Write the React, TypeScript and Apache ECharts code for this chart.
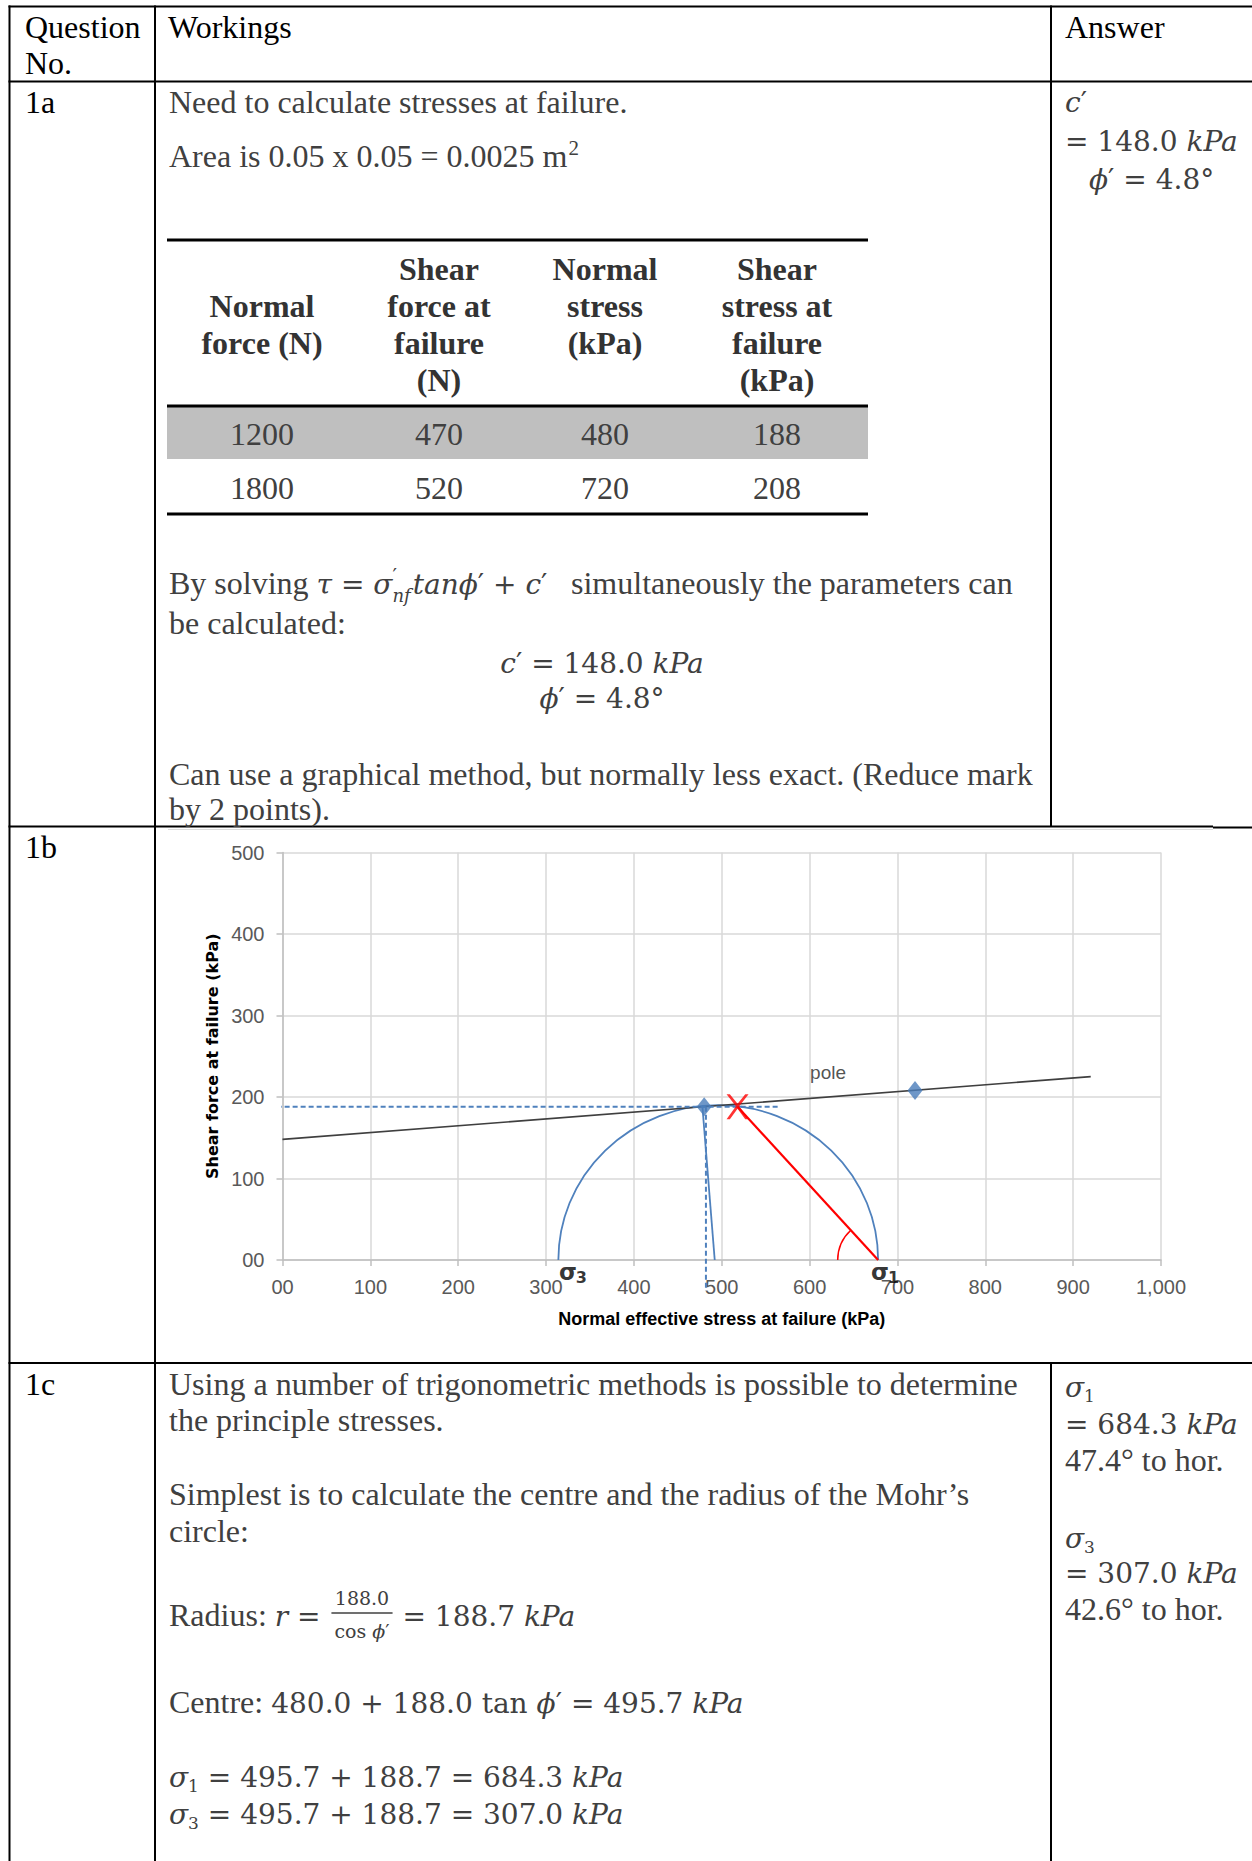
import React, { useEffect, useRef } from 'react';
import * as echarts from 'echarts';

// ---------- 1a table values ----------
const normalForce = [1200, 1800];
const shearForceAtFailure = [470, 520];
const normalStress = [480, 720];
const shearStressAtFailure = [188, 208];
const tableHeader = [
  ['', 'Normal', 'force (N)'],
  ['Shear', 'force at', 'failure', '(N)'],
  ['Normal', 'stress', '(kPa)'],
  ['Shear', 'stress at', 'failure', '(kPa)'],
];

// ---------- 1b chart values ----------
const xTickLabels = ['00', '100', '200', '300', '400', '500', '600', '700', '800', '900', '1,000'];
const yTickLabels = ['00', '100', '200', '300', '400', '500'];
const envelopeLine = [[0, 148], [920, 225]];
const mohrCircle = [[496, 182, 190]]; // centre, half width, height (kPa)
const poleMark = [[518, 188]];
const poleRay = [[518, 188], [678, 0]];
const angleMark = [[678, 0, 46]];
const tauDashed = [[-34, 188], [565, 188]];
const sigmaDashed = [[482, 188], [482, -38]];
const sigmaDrop = [[478, 188], [492, 0]];
const chartNotes = [
  { kind: 'word', text: 'pole', at: [621, 230] },
  { kind: 'sigma', text: 'σ', at: [325, -15] },
  { kind: 'index', text: '3', at: [340, -22] },
  { kind: 'sigma', text: 'σ', at: [680, -15] },
  { kind: 'index', text: '1', at: [695.5, -22] },
];

// ---------- text helpers ----------
type P = { t: string; k?: 'r' | 'b' | 'm' | 'i'; s?: number; dy?: number; at?: number; stay?: boolean; gap?: number };
const SERIF = '"Liberation Serif", "Times New Roman", serif';
const MATH = '"DejaVu Serif", serif';
const SANS = '"Liberation Sans", Arial, sans-serif';
let ctx: CanvasRenderingContext2D | null = null;
function fontOf(p: P) {
  const k = p.k || 'r';
  const math = k === 'm' || k === 'i';
  return {
    fam: math ? MATH : SERIF,
    size: p.s || (math ? 28 : 32),
    style: k === 'i' ? 'italic' : 'normal',
    weight: k === 'b' ? 'bold' : 'normal',
    math,
  };
}
function measure(p: P) {
  if (!ctx) ctx = document.createElement('canvas').getContext('2d');
  const f = fontOf(p);
  ctx!.font = `${f.style} ${f.weight} ${f.size}px ${f.fam}`;
  return ctx!.measureText(p.t).width;
}
function widthOf(parts: P[]) {
  let w = 0;
  parts.forEach((p) => { if (!p.stay) w += measure(p) + (p.gap || 0); });
  return w;
}
const PR: P = { t: '′', k: 'm' };
const cP: P[] = [{ t: 'c', k: 'i' }, PR];
const phiP: P[] = [{ t: 'ϕ', k: 'i' }, PR];

export default function App() {
  const ref = useRef<HTMLDivElement>(null);
  useEffect(() => {
    document.body.style.margin = '0';
    const g: any[] = [];
    const L = (x1: number, y1: number, x2: number, y2: number, w = 2, c = '#000') =>
      g.push({ type: 'line', silent: true, shape: { x1, y1, x2, y2 }, style: { stroke: c, lineWidth: w } });
    const run = (x0: number, y: number, parts: P[], color = '#404040'): number => {
      let x = x0;
      parts.forEach((p) => {
        if (p.at !== undefined) x = p.at;
        x += p.gap || 0;
        const f = fontOf(p);
        const dy = p.dy !== undefined ? p.dy : f.math ? 1.5 : 0;
        g.push({
          type: 'text', silent: true, x, y: y + dy,
          style: {
            text: p.t, fontFamily: f.fam, fontSize: f.size, fontStyle: f.style, fontWeight: f.weight,
            fill: color, align: 'left', verticalAlign: 'middle',
          },
        });
        if (!p.stay) x += measure(p);
      });
      return x;
    };
    const center = (cx: number, y: number, parts: P[], color = '#404040') => run(cx - widthOf(parts) / 2, y, parts, color);

    // ----- outer table grid -----
    L(8.5, 6.5, 1252, 6.5);
    L(9.5, 5.5, 9.5, 1861);
    L(155, 5.5, 155, 1861);
    L(1051, 5.5, 1051, 827);
    L(1051, 1363, 1051, 1861);
    L(8.5, 81.5, 1252, 81.5);
    L(8.5, 826.5, 1213, 826.5);
    L(1213, 827.5, 1252, 827.5);
    L(8.5, 1363, 1252, 1363);
    L(168, 829.5, 1213, 829.5, 1, '#dcdcdc');

    // ----- headers -----
    run(25, 26.5, [{ t: 'Question' }], '#000');
    run(25, 63, [{ t: 'No.' }], '#000');
    run(168, 26.5, [{ t: 'Workings' }], '#000');
    run(1065, 26.5, [{ t: 'Answer' }], '#000');
    run(25, 102, [{ t: '1a' }], '#000');
    run(25, 847, [{ t: '1b' }], '#000');
    run(25, 1384, [{ t: '1c' }], '#000');

    // ----- 1a -----
    run(169, 102, [{ t: 'Need to calculate stresses at failure.' }]);
    run(169, 156, [{ t: 'Area is 0.05 x 0.05 = 0.0025 m' }, { t: '2', s: 21, dy: -8, gap: 1 }]);

    g.push({ type: 'rect', silent: true, shape: { x: 167, y: 407, width: 701, height: 52 }, style: { fill: '#bfbfbf' } });
    L(167, 240, 868, 240, 3);
    L(167, 406, 868, 406, 3);
    L(167, 514, 868, 514, 3);
    const colX = [262, 439, 605, 777];
    const headY = [269, 306, 343, 380];
    tableHeader.forEach((lines, c) => lines.forEach((txt, r) => {
      if (txt) center(colX[c], headY[r], [{ t: txt, k: 'b' }], '#333');
    }));
    const rowY = [434, 488];
    normalForce.forEach((_, i) => {
      [normalForce[i], shearForceAtFailure[i], normalStress[i], shearStressAtFailure[i]].forEach((v, c) =>
        center(colX[c], rowY[i], [{ t: String(v) }]));
    });

    run(169, 583, [
      { t: 'By solving ' },
      { t: 'τ', k: 'i' }, { t: ' = ', k: 'm' }, { t: 'σ', k: 'i' },
      { t: '′', k: 'm', s: 20, dy: -7, stay: true }, { t: 'nf', k: 'i', s: 18, dy: 12 },
      { t: 'tan', k: 'i', gap: 2 }, ...phiP, { t: ' + ', k: 'm' }, ...cP,
      { t: 'simultaneously the parameters can', at: 571 },
    ]);
    run(169, 623, [{ t: 'be calculated:' }]);
    center(602, 662, [...cP, { t: ' = 148.0 ', k: 'm' }, { t: 'kPa', k: 'i' }]);
    center(602, 697, [...phiP, { t: ' = 4.8°', k: 'm' }]);
    run(169, 774, [{ t: 'Can use a graphical method, but normally less exact. (Reduce mark' }]);
    run(169, 809, [{ t: 'by 2 points).' }]);

    run(1065, 101, cP);
    run(1065, 140, [{ t: '= 148.0 ', k: 'm' }, { t: 'kPa', k: 'i' }]);
    run(1089, 178, [...phiP, { t: ' = 4.8°', k: 'm' }]);

    // ----- 1c -----
    run(169, 1384, [{ t: 'Using a number of trigonometric methods is possible to determine' }]);
    run(169, 1420, [{ t: 'the principle stresses.' }]);
    run(169, 1494, [{ t: 'Simplest is to calculate the centre and the radius of the Mohr’s' }]);
    run(169, 1531, [{ t: 'circle:' }]);
    let x = run(169, 1615, [{ t: 'Radius: ' }, { t: 'r', k: 'i' }, { t: ' = ', k: 'm' }]);
    const num: P[] = [{ t: '188.0', k: 'm', s: 19, dy: 0 }];
    const den: P[] = [{ t: 'cos ', k: 'm', s: 19, dy: 0 }, { t: 'ϕ', k: 'i', s: 19, dy: 0 }, { t: '′', k: 'm', s: 19, dy: 0 }];
    const fw = Math.max(widthOf(num), widthOf(den)) + 6;
    const fcx = x + 2 + fw / 2;
    run(fcx - widthOf(num) / 2, 1598, num);
    L(x + 2, 1613, x + 2 + fw, 1613, 1.3, '#404040');
    run(fcx - widthOf(den) / 2, 1631, den);
    x = x + fw + 3;
    run(x, 1615, [{ t: ' = 188.7 ', k: 'm' }, { t: 'kPa', k: 'i' }]);
    run(169, 1702, [{ t: 'Centre: ' }, { t: '480.0 + 188.0 tan ', k: 'm' }, ...phiP, { t: ' = 495.7 ', k: 'm' }, { t: 'kPa', k: 'i' }]);
    run(169, 1776, [{ t: 'σ', k: 'i' }, { t: '1', k: 'm', s: 17, dy: 10 }, { t: ' = 495.7 + 188.7 = 684.3 ', k: 'm' }, { t: 'kPa', k: 'i' }]);
    run(169, 1813, [{ t: 'σ', k: 'i' }, { t: '3', k: 'm', s: 17, dy: 10 }, { t: ' = 495.7 + 188.7 = 307.0 ', k: 'm' }, { t: 'kPa', k: 'i' }]);

    run(1065, 1386, [{ t: 'σ', k: 'i' }, { t: '1', k: 'm', s: 17, dy: 10 }]);
    run(1065, 1423, [{ t: '= 684.3 ', k: 'm' }, { t: 'kPa', k: 'i' }]);
    run(1065, 1460, [{ t: '47.4° to hor.' }]);
    run(1065, 1537, [{ t: 'σ', k: 'i' }, { t: '3', k: 'm', s: 17, dy: 10 }]);
    run(1065, 1572, [{ t: '= 307.0 ', k: 'm' }, { t: 'kPa', k: 'i' }]);
    run(1065, 1609, [{ t: '42.6° to hor.' }]);

    // ----- chart -----
    const blue = '#4f81bd';
    const red = '#ff0000';
    const noteStyle: Record<string, any> = {
      word: { fontSize: 19, color: '#262626', fontFamily: SANS },
      sigma: { fontSize: 23, fontWeight: 'bold', color: '#000', fontFamily: '"DejaVu Sans", sans-serif' },
      index: { fontSize: 16, fontWeight: 'bold', color: '#000', fontFamily: '"DejaVu Sans", sans-serif' },
    };
    const option: any = {
      animation: false,
      grid: { left: 282.5, top: 852.5, width: 878.5, height: 407.5, containLabel: false },
      xAxis: {
        type: 'value', min: 0, max: 1000, interval: 100,
        name: 'Normal effective stress at failure (kPa)', nameLocation: 'middle', nameGap: 50,
        nameTextStyle: { fontFamily: SANS, fontWeight: 'bold', fontSize: 18, color: '#000' },
        axisLine: { show: true, onZero: false, lineStyle: { color: '#bfbfbf', width: 1.5 } },
        axisTick: { show: true, length: 6, lineStyle: { color: '#bfbfbf', width: 1.5 } },
        axisLabel: { margin: 17, color: '#595959', fontSize: 20, fontFamily: SANS, formatter: (v: number) => xTickLabels[Math.round(v / 100)] ?? '' },
        splitLine: { show: true, lineStyle: { color: '#d9d9d9', width: 1.5 } },
      },
      yAxis: {
        type: 'value', min: 0, max: 500, interval: 100,
        name: 'Shear force at failure (kPa)', nameLocation: 'middle', nameGap: 60,
        nameTextStyle: { fontFamily: '"DejaVu Sans", sans-serif', fontWeight: 'bold', fontSize: 16, color: '#000' },
        axisLine: { show: true, onZero: false, lineStyle: { color: '#bfbfbf', width: 1.5 } },
        axisTick: { show: true, length: 6, lineStyle: { color: '#bfbfbf', width: 1.5 } },
        axisLabel: { margin: 18, color: '#595959', fontSize: 20, fontFamily: SANS, formatter: (v: number) => yTickLabels[Math.round(v / 100)] ?? '' },
        splitLine: { show: true, lineStyle: { color: '#d9d9d9', width: 1.5 } },
      },
      series: [
        { type: 'line', data: envelopeLine, symbol: 'none', clip: false, silent: true, z: 3, lineStyle: { color: '#3f3f3f', width: 1.6 } },
        { type: 'line', data: tauDashed, symbol: 'none', clip: false, silent: true, z: 3, lineStyle: { color: blue, width: 2, type: [5, 3] } },
        { type: 'line', data: sigmaDashed, symbol: 'none', clip: false, silent: true, z: 3, lineStyle: { color: blue, width: 2, type: [5, 3] } },
        { type: 'line', data: sigmaDrop, symbol: 'none', clip: false, silent: true, z: 3, lineStyle: { color: blue, width: 1.8 } },
        {
          type: 'custom', data: mohrCircle, clip: false, silent: true, z: 3,
          renderItem: (_p: any, api: any) => {
            const c = api.coord([api.value(0), 0]);
            const rx = api.size([api.value(1), 0])[0];
            const ry = api.size([0, api.value(2)])[1];
            return {
              type: 'arc', x: c[0], y: c[1], scaleY: ry / rx,
              shape: { cx: 0, cy: 0, r: rx, startAngle: Math.PI, endAngle: 2 * Math.PI, clockwise: true },
              style: { stroke: blue, fill: 'none', lineWidth: 1.8 },
            };
          },
        },
        { type: 'line', data: poleRay, symbol: 'none', clip: false, silent: true, z: 4, lineStyle: { color: red, width: 2.2 } },
        {
          type: 'custom', data: angleMark, clip: false, silent: true, z: 4,
          renderItem: (_p: any, api: any) => {
            const c = api.coord([api.value(0), api.value(1)]);
            const r = api.size([api.value(2), 0])[0];
            const top = api.coord(poleRay[0]);
            const end = Math.atan2(top[1] - c[1], top[0] - c[0]) + 2 * Math.PI;
            return {
              type: 'arc',
              shape: { cx: c[0], cy: c[1], r, startAngle: Math.PI, endAngle: end, clockwise: true },
              style: { stroke: red, fill: 'none', lineWidth: 1.5 },
            };
          },
        },
        {
          type: 'scatter', data: poleMark, clip: false, silent: true, z: 5,
          symbol: 'path://M0,0 L3,0 L10,9 L17,0 L20,0 L11.5,11.5 L20,24 L17,24 L10,14 L3,24 L0,24 L8.5,11.5 Z',
          symbolSize: [22, 25], itemStyle: { color: red },
        },
        {
          type: 'scatter', data: normalStress.map((v, i) => [v, shearStressAtFailure[i]]), clip: false, silent: true, z: 6,
          symbol: 'diamond', symbolSize: [15, 19], itemStyle: { color: '#4a7dba' },
        },
        {
          type: 'scatter', clip: false, silent: true, z: 7, symbolSize: 1, itemStyle: { color: 'rgba(0,0,0,0)' },
          data: chartNotes.map((n) => ({
            value: n.at, name: n.text,
            label: { show: true, position: 'inside', formatter: n.text, ...noteStyle[n.kind] },
          })),
        },
      ],
      graphic: { elements: g },
    };

    const chart = echarts.init(ref.current!, undefined, { renderer: 'svg' });
    chart.setOption(option);
    return () => chart.dispose();
  }, []);
  return <div ref={ref} style={{ position: 'absolute', left: 0, top: 0, width: 1252, height: 1861, background: '#fff' }} />;
}
